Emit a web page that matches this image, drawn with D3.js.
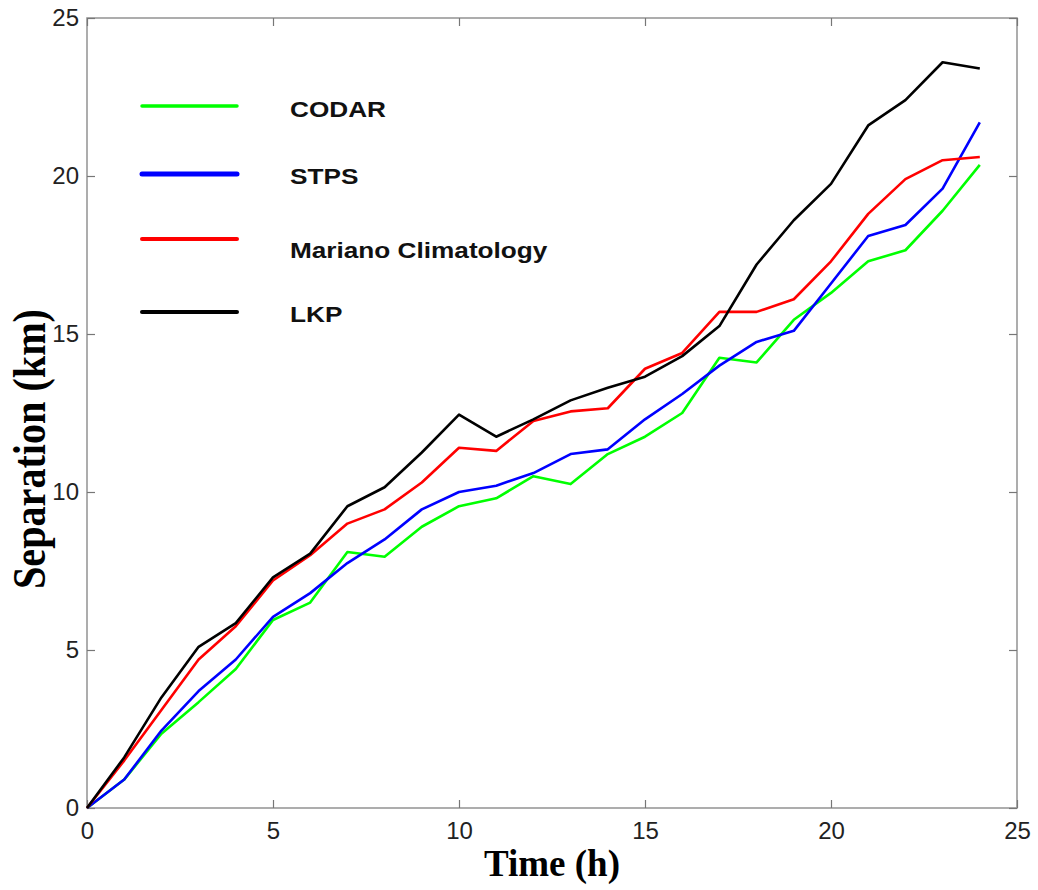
<!DOCTYPE html>
<html>
<head>
<meta charset="utf-8">
<script src="https://cdn.jsdelivr.net/npm/d3@7"></script>
<style>
html,body{margin:0;padding:0;background:#fff;}
svg{display:block;}
</style>
</head>
<body>
<svg id="chart" width="1038" height="890"></svg>
<script>
const hours   = [0,1,2,3,4,5,6,7,8,9,10,11,12,13,14,15,16,17,18,19,20,21,22,23,24];
const codar   = [0,0.9,2.35,3.35,4.4,5.95,6.5,8.1,7.95,8.9,9.55,9.8,10.5,10.25,11.2,11.75,12.5,14.25,14.1,15.45,16.3,17.3,17.65,18.9,20.35];
const stps    = [0,0.9,2.45,3.7,4.7,6.05,6.8,7.75,8.5,9.45,10.0,10.2,10.6,11.2,11.35,12.3,13.1,14.0,14.75,15.1,16.6,18.1,18.45,19.6,21.7];
const mariano = [0,1.5,3.1,4.7,5.75,7.2,8.0,9.0,9.45,10.3,11.4,11.3,12.25,12.55,12.65,13.9,14.4,15.7,15.7,16.1,17.3,18.8,19.9,20.5,20.6];
const lkp     = [0,1.6,3.5,5.1,5.85,7.3,8.05,9.55,10.15,11.25,12.45,11.75,12.3,12.9,13.3,13.65,14.3,15.25,17.2,18.6,19.75,21.6,22.4,23.6,23.4];
const seriesNames = ["CODAR","STPS","Mariano Climatology","LKP"];
const seriesColors = ["#00ff00","#0000ff","#ff0000","#000000"];
const xTicks = [0,5,10,15,20,25];
const yTicks = [0,5,10,15,20,25];

const svg = d3.select("#chart");
const m = {left:87, top:18, right:21, bottom:82};
const W = 1038, H = 890;
const x = d3.scaleLinear().domain([0,25]).range([m.left, W-m.right]);
const y = d3.scaleLinear().domain([0,25]).range([H-m.bottom, m.top]);

const axisColor = "#999";
// frame
svg.append("rect").attr("x",x(0)).attr("y",y(25)).attr("width",x(25)-x(0)).attr("height",y(0)-y(25))
  .attr("fill","none").attr("stroke",axisColor).attr("stroke-width",1.6);

// axes
const gx = svg.append("g").attr("transform",`translate(0,${y(0)})`)
  .call(d3.axisBottom(x).tickValues(xTicks).tickSize(-8).tickPadding(14).tickFormat(d3.format("d")));
const gxTop = svg.append("g").attr("transform",`translate(0,${y(25)})`)
  .call(d3.axisTop(x).tickValues(xTicks).tickSize(-8).tickFormat(""));
const gy = svg.append("g").attr("transform",`translate(${x(0)},0)`)
  .call(d3.axisLeft(y).tickValues(yTicks).tickSize(-8).tickPadding(8).tickFormat(d3.format("d")));
const gyR = svg.append("g").attr("transform",`translate(${x(25)},0)`)
  .call(d3.axisRight(y).tickValues(yTicks).tickSize(-8).tickFormat(""));
[gx,gxTop,gy,gyR].forEach(g=>{
  g.select(".domain").remove();
  g.selectAll(".tick line").attr("stroke","#777").attr("stroke-width",1.2);
  g.selectAll(".tick text").attr("font-family","Liberation Sans, Arial, sans-serif")
    .attr("font-size",24).attr("fill","#222");
});

// lines
const allSeries = [codar, stps, mariano, lkp];
const line = d3.line().x((d,i)=>x(hours[i])).y(d=>y(d));
allSeries.forEach((s,k)=>{
  svg.append("path").datum(s).attr("d",line).attr("fill","none")
    .attr("stroke",seriesColors[k]).attr("stroke-width",2.6).attr("stroke-linejoin","round");
});

// legend
const legY = [106,174,239,312];
const legTextY = [117,184,258,322];
const legW = [3.5,5,4,4];
seriesNames.forEach((n,k)=>{
  svg.append("line").attr("x1",142).attr("x2",237).attr("y1",legY[k]).attr("y2",legY[k])
    .attr("stroke",seriesColors[k]).attr("stroke-width",legW[k]).attr("stroke-linecap","round");
  svg.append("text").attr("transform",`translate(290,${legTextY[k]}) scale(1.19,1)`).text(n)
    .attr("font-family","Liberation Sans, Arial, sans-serif").attr("font-weight","bold")
    .attr("font-size",22).attr("fill","#111");
});

// axis titles
svg.append("text").attr("x",(x(0)+x(25))/2).attr("y",876).attr("text-anchor","middle")
  .attr("font-family","Liberation Serif, Times New Roman, serif").attr("font-weight","bold")
  .attr("font-size",37).attr("fill","#000").text("Time (h)");
svg.append("text").attr("transform","translate(45,449) rotate(-90)").attr("text-anchor","middle")
  .attr("font-family","Liberation Serif, Times New Roman, serif").attr("font-weight","bold")
  .attr("font-size",46).attr("textLength",280).attr("lengthAdjust","spacingAndGlyphs")
  .attr("fill","#000").text("Separation (km)");
</script>
</body>
</html>
